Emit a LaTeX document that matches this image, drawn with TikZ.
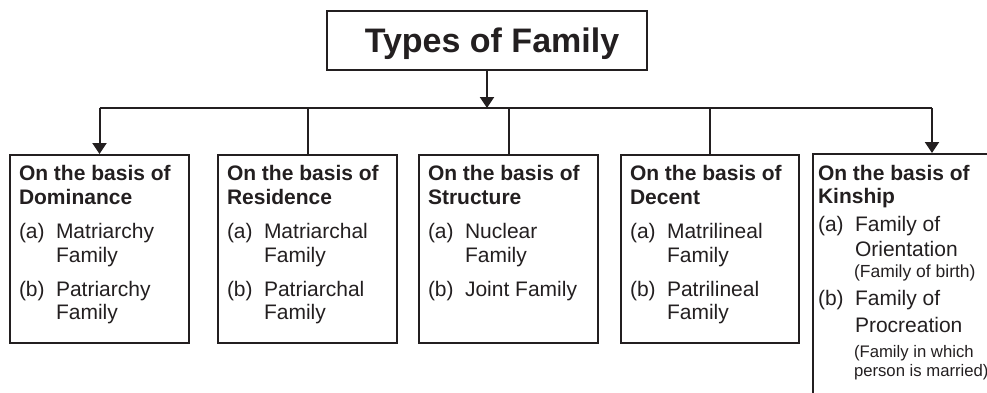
\documentclass[tikz,border=0pt]{standalone}
\usepackage{fontspec}
\setmainfont{Liberation Sans}
\usetikzlibrary{arrows.meta}
\definecolor{ink}{HTML}{231F20}
\begin{document}
\begin{tikzpicture}[x=1pt,y=-1pt,
  line width=2pt,
  box/.style={draw=ink, line width=2pt, inner sep=0pt, anchor=north west},
  hd/.style={anchor=base west, inner sep=0pt, text=ink, font=\fontsize{21}{21}\selectfont\bfseries},
  it/.style={anchor=base west, inner sep=0pt, text=ink, font=\fontsize{21}{21}\selectfont},
  sm/.style={anchor=base west, inner sep=0pt, text=ink, font=\fontsize{16.7}{16.7}\selectfont},
  link/.style={draw=ink, line width=2pt},
  arr/.style={draw=ink, line width=2pt, -{Triangle[length=11pt,width=14pt]}}]
\useasboundingbox (0,0) rectangle (987,392);
\clip (0,0) rectangle (987,392);
% title
\node[draw=ink, line width=2pt, minimum width=320pt, minimum height=59pt, text height=30pt, text depth=7pt, inner sep=0pt, text=ink, font=\fontsize{34}{34}\selectfont\bfseries] (title) at (487,40.5) {\hspace*{10pt}Types of Family};
% boxes
\node[box, minimum width=179pt, minimum height=188pt] (b1) at (9,154) {};
\node[box, minimum width=179pt, minimum height=188pt] (b2) at (217,154) {};
\node[box, minimum width=179pt, minimum height=188pt] (b3) at (418,154) {};
\node[box, minimum width=178pt, minimum height=188pt] (b4) at (620,154) {};
\node[box, minimum width=190pt, minimum height=260pt] (b5) at (812,153) {};
% connectors
\coordinate (hub) at (487,108);
\coordinate (k5) at (932,153);
\draw[arr] (title.south) -- (hub);
\draw[link] (b1.north |- hub) -- (k5 |- hub);
\draw[arr] (b1.north |- hub) -- (b1.north);
\draw[link] (b2.north |- hub) -- (b2.north);
\draw[link] (b3.north |- hub) -- (b3.north);
\draw[link] (b4.north |- hub) -- (b4.north);
\draw[arr] (k5 |- hub) -- (k5);
% box 1
\node[hd] (t1a) at (18,180) {On the basis of};
\node[hd] (t1b) at (18,204) {Dominance};
\node[it] (t1c) at (18,238) {(a)};
\node[it] (t1d) at (55,238) {Matriarchy};
\node[it] (t1e) at (55,262) {Family};
\node[it] (t1f) at (18,296) {(b)};
\node[it] (t1g) at (55,296) {Patriarchy};
\node[it] (t1h) at (55,319) {Family};
% box 2
\node[hd] (t2a) at (226,180) {On the basis of};
\node[hd] (t2b) at (226,204) {Residence};
\node[it] (t2c) at (226,238) {(a)};
\node[it] (t2d) at (263,238) {Matriarchal};
\node[it] (t2e) at (263,262) {Family};
\node[it] (t2f) at (226,296) {(b)};
\node[it] (t2g) at (263,296) {Patriarchal};
\node[it] (t2h) at (263,319) {Family};
% box 3
\node[hd] (t3a) at (427,180) {On the basis of};
\node[hd] (t3b) at (427,204) {Structure};
\node[it] (t3c) at (427,238) {(a)};
\node[it] (t3d) at (464,238) {Nuclear};
\node[it] (t3e) at (464,262) {Family};
\node[it] (t3f) at (427,296) {(b)};
\node[it] (t3g) at (464,296) {Joint Family};
% box 4
\node[hd] (t4a) at (629,180) {On the basis of};
\node[hd] (t4b) at (629,204) {Decent};
\node[it] (t4c) at (629,238) {(a)};
\node[it] (t4d) at (666,238) {Matrilineal};
\node[it] (t4e) at (666,262) {Family};
\node[it] (t4f) at (629,296) {(b)};
\node[it] (t4g) at (666,296) {Patrilineal};
\node[it] (t4h) at (666,319) {Family};
% box 5
\node[hd] (t5a) at (817,180) {On the basis of};
\node[hd] (t5b) at (817,203) {Kinship};
\node[it] (t5c) at (817,231) {(a)};
\node[it] (t5d) at (854,231) {Family of};
\node[it] (t5e) at (854,256) {Orientation};
\node[sm, font=\fontsize{17.5}{17.5}\selectfont] (t5f) at (853,277) {(Family of birth)};
\node[it] (t5g) at (817,305) {(b)};
\node[it] (t5h) at (854,305) {Family of};
\node[it] (t5i) at (854,332) {Procreation};
\node[sm] (t5j) at (853,357) {(Family in which};
\node[sm] (t5k) at (853,376) {person is married)};
\end{tikzpicture}
\end{document}
